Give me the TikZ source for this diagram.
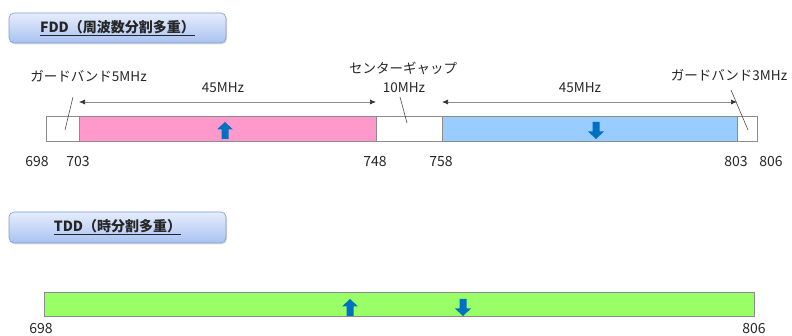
\documentclass[tikz,border=0pt]{standalone}
\usepackage{fontspec}
\setmainfont{Noto Sans CJK JP}
\usetikzlibrary{shadows,arrows.meta}
\definecolor{barline}{HTML}{8C8C8C}
\definecolor{pinkband}{HTML}{FF99CC}
\definecolor{blueband}{HTML}{99CCFF}
\definecolor{greenband}{HTML}{99FF66}
\definecolor{arrowblue}{HTML}{0070C0}
\definecolor{btntop}{HTML}{E6EDFC}
\definecolor{btnbot}{HTML}{A9C2F2}
\definecolor{btnborder}{HTML}{7F9BD0}
\definecolor{txt}{HTML}{262626}
\tikzset{
  seg/.style={draw=barline, line width=0.8pt, inner sep=0pt, outer sep=0pt, minimum height=25pt},
  btn/.style={draw=btnborder, line width=0.6pt, rounded corners=5pt, top color=btntop, bottom color=btnbot,
    minimum width=217pt, minimum height=30pt, drop shadow={opacity=0.25, shadow xshift=1pt, shadow yshift=-1.5pt},
    font=\fontsize{14}{16}\selectfont\bfseries, text=txt},
  lbl/.style={font=\fontsize{13.5}{15}\selectfont, text=txt, inner sep=0pt},
  num/.style={font=\fontsize{14}{16}\selectfont, text=txt, inner sep=0pt},
  dim/.style={draw=barline, line width=0.7pt, {Latex[length=6pt,width=5pt,color=black!80]}-{Latex[length=6pt,width=5pt,color=black!80]}},
  leader/.style={draw=black!70, line width=0.6pt},
  uparr/.pic={\fill[arrowblue] (0,-8.5) -- (8,-1) -- (3.5,-1) -- (3.5,8.5) -- (-3.5,8.5) -- (-3.5,-1) -- (-8,-1) -- cycle;},
  downarr/.pic={\fill[arrowblue] (0,8.5) -- (8,1) -- (3.5,1) -- (3.5,-8.5) -- (-3.5,-8.5) -- (-3.5,1) -- (-8,1) -- cycle;}
}
\begin{document}
\begin{tikzpicture}[x=1pt,y=-1pt]
\useasboundingbox (0,0) rectangle (792,336);
% FDD title
\node[btn] (fddbtn) at (117.5,28) {\underline{FDD（周波数分割多重）}};
% FDD bar segments
\node[seg, fill=white, minimum width=33pt] (g1) at (62.5,128.5) {};
\node[seg, fill=pinkband, minimum width=297pt] (ul) at (227.5,128.5) {};
\node[seg, fill=white, minimum width=66pt] (gap) at (409,128.5) {};
\node[seg, fill=blueband, minimum width=295pt] (dl) at (589.5,128.5) {};
\node[seg, fill=white, minimum width=20pt] (g2) at (747,128.5) {};
\pic at (225,130.5) {uparr};
\pic at (596,130.5) {downarr};
% dimension arrows
\coordinate (ulL) at (79,102); \coordinate (ulR) at (376,102);
\coordinate (dlL) at (442,102); \coordinate (dlR) at (737,102);
\draw[dim] (ulL) -- (ulR);
\draw[dim] (dlL) -- (dlR);
\node[lbl] (ulw) at (223,88) {45MHz};
\node[lbl] (dlw) at (580,88) {45MHz};
% labels with leaders
\node[lbl] (g1lbl) at (88.5,76) {ガードバンド5MHz};
\coordinate (g1a) at (73,97); \coordinate (g1b) at (65,130);
\draw[leader] (g1a) -- (g1b);
\node[lbl] (gaplbl) at (403,68) {センターギャップ};
\node[lbl] (gapw) at (404,88) {10MHz};
\coordinate (gapa) at (400,97); \coordinate (gapb) at (407,123);
\draw[leader] (gapa) -- (gapb);
\node[lbl] (g2lbl) at (729,75) {ガードバンド3MHz};
\coordinate (g2a) at (731,90); \coordinate (g2b) at (748,130);
\draw[leader] (g2a) -- (g2b);
% FDD numbers
\node[num] (n698) at (37,162) {698};
\node[num] (n703) at (78,162) {703};
\node[num] (n748) at (375,162) {748};
\node[num] (n758) at (441,162) {758};
\node[num] (n803) at (736,162) {803};
\node[num] (n806) at (771,162) {806};
% TDD title
\node[btn, minimum height=31pt] (tddbtn) at (117.5,227.5) {\underline{TDD（時分割多重）}};
% TDD bar
\node[seg, fill=greenband, minimum width=710pt, minimum height=24pt] (tdd) at (399,304) {};
\pic at (350,307.5) {uparr};
\pic at (463,307.5) {downarr};
\node[num] (t698) at (41,329) {698};
\node[num] (t806) at (754,329) {806};
\end{tikzpicture}
\end{document}
